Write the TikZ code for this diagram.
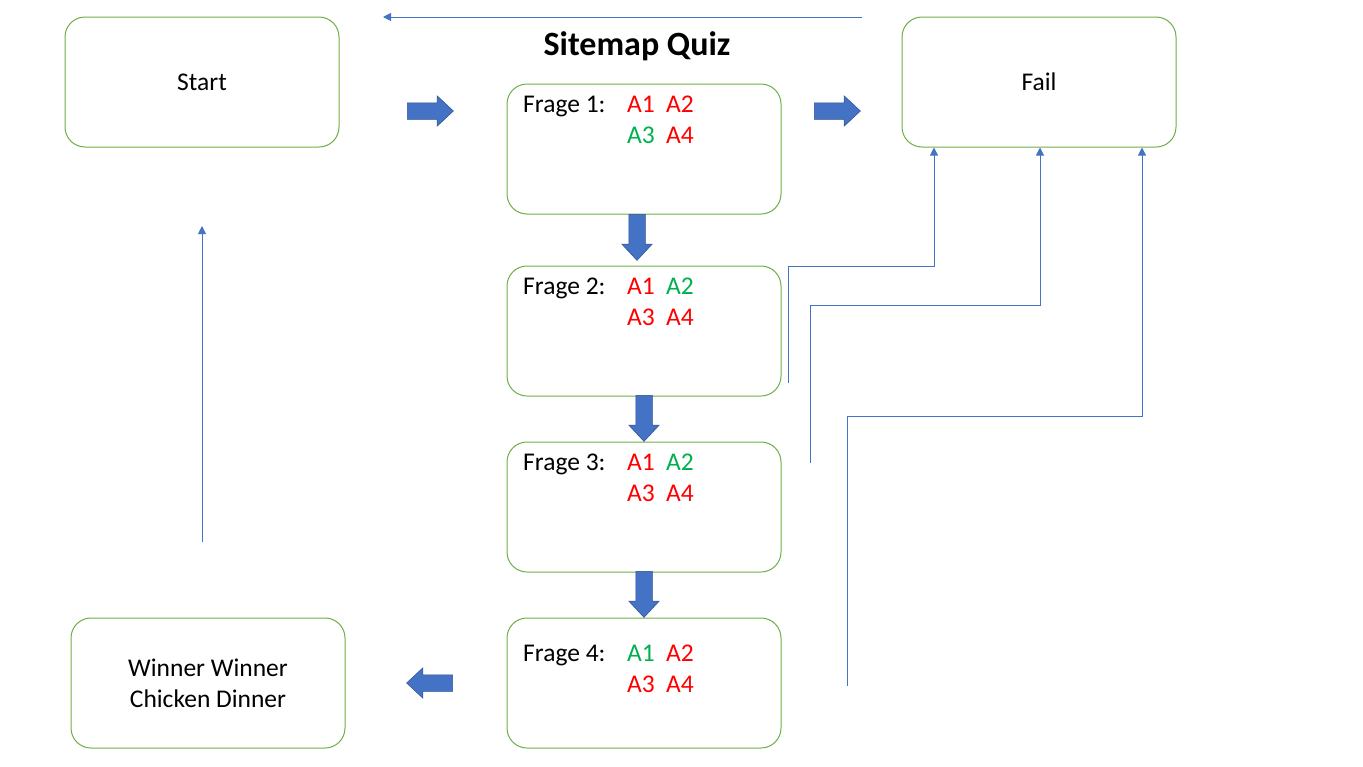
\documentclass[tikz,border=0pt]{standalone}
\usepackage{fontspec}
\setmainfont{Carlito}
\usetikzlibrary{shapes.arrows,arrows.meta}
\definecolor{boxgreen}{HTML}{70AD47}
\definecolor{ansred}{HTML}{FF0000}
\definecolor{ansgreen}{HTML}{00B050}
\definecolor{arrowblue}{HTML}{4472C4}
\definecolor{arrowedge}{HTML}{2F528F}
\tikzset{
  box/.style={draw=boxgreen, line width=1pt, rounded corners=20pt, minimum width=274pt, minimum height=130pt, inner sep=0pt},
  blk/.style={single arrow, draw=arrowedge, fill=arrowblue, line width=0.5pt, minimum height=46pt, inner sep=8pt, single arrow head extend=7pt, single arrow tip angle=86},
  thin/.style={draw=arrowblue, line width=1pt, -{Triangle[length=8pt,width=8pt]}},
  txt/.style={font=\fontsize{25.5}{31}\selectfont, inner sep=0pt, anchor=base west},
  ctr/.style={font=\fontsize{25.5}{31}\selectfont, inner sep=0pt, align=center},
  R/.style={txt, text=ansred},
  G/.style={txt, text=ansgreen}
}
\begin{document}
\begin{tikzpicture}[x=1pt,y=-1pt]
\useasboundingbox (0,0) rectangle (1363,766);
% boxes
\node[box] (start) at (202,82) {};
\node[box] (fail) at (1039,82) {};
\node[box] (f1) at (644,149) {};
\node[box] (f2) at (644,331) {};
\node[box] (f3) at (644,507) {};
\node[box] (f4) at (644,683) {};
\node[box] (win) at (208,683) {};
% title
\node[inner sep=0pt, font=\fontsize{34}{40}\selectfont\bfseries] (title) at (637,46) {Sitemap Quiz};
% texts
\node[ctr] (starttxt) at (202,82) {Start};
\node[ctr] (failtxt) at (1039,82) {Fail};
\node[ctr] (wintxt) at (208,683) {Winner Winner\\Chicken Dinner};
% question texts
\node[txt] (q1) at (523,112) {Frage 1:};
\node[R] (q1a1) at (627,112) {A1};
\node[R] (q1a2) at (666,112) {A2};
\node[G] (q1a3) at (627,143) {A3};
\node[R] (q1a4) at (666,143) {A4};
\node[txt] (q2) at (523,294) {Frage 2:};
\node[R] (q2a1) at (627,294) {A1};
\node[G] (q2a2) at (666,294) {A2};
\node[R] (q2a3) at (627,325) {A3};
\node[R] (q2a4) at (666,325) {A4};
\node[txt] (q3) at (523,470) {Frage 3:};
\node[R] (q3a1) at (627,470) {A1};
\node[G] (q3a2) at (666,470) {A2};
\node[R] (q3a3) at (627,501) {A3};
\node[R] (q3a4) at (666,501) {A4};
\node[txt] (q4) at (523,661) {Frage 4:};
\node[G] (q4a1) at (627,661) {A1};
\node[R] (q4a2) at (666,661) {A2};
\node[R] (q4a3) at (627,692) {A3};
\node[R] (q4a4) at (666,692) {A4};
% block arrows
\node[blk] (ba1) at (426,111) {};
\node[blk] (ba2) at (833,111) {};
\node[blk, shape border rotate=270] (ba3) at (637,233) {};
\node[blk, shape border rotate=270] (ba4) at (644,414) {};
\node[blk, shape border rotate=270] (ba5) at (644,590) {};
\node[blk, shape border rotate=180] (ba6) at (434,683) {};
% thin connectors
\coordinate (t1) at (862,17);
\coordinate (t2) at (383,17);
\draw[thin] (t1) -- (t2);
\coordinate (v1) at (202,542);
\coordinate (v2) at (202,226);
\draw[thin] (v1) -- (v2);
\coordinate (c1) at (788,383);
\draw[thin] (c1) |- (934,266) -- (fail.south -| 934,0);
\coordinate (c2) at (810,463);
\draw[thin] (c2) |- (1040,305) -- (fail.south -| 1040,0);
\coordinate (c3) at (847,686);
\draw[thin] (c3) |- (1142,416) -- (fail.south -| 1142,0);
\end{tikzpicture}
\end{document}
